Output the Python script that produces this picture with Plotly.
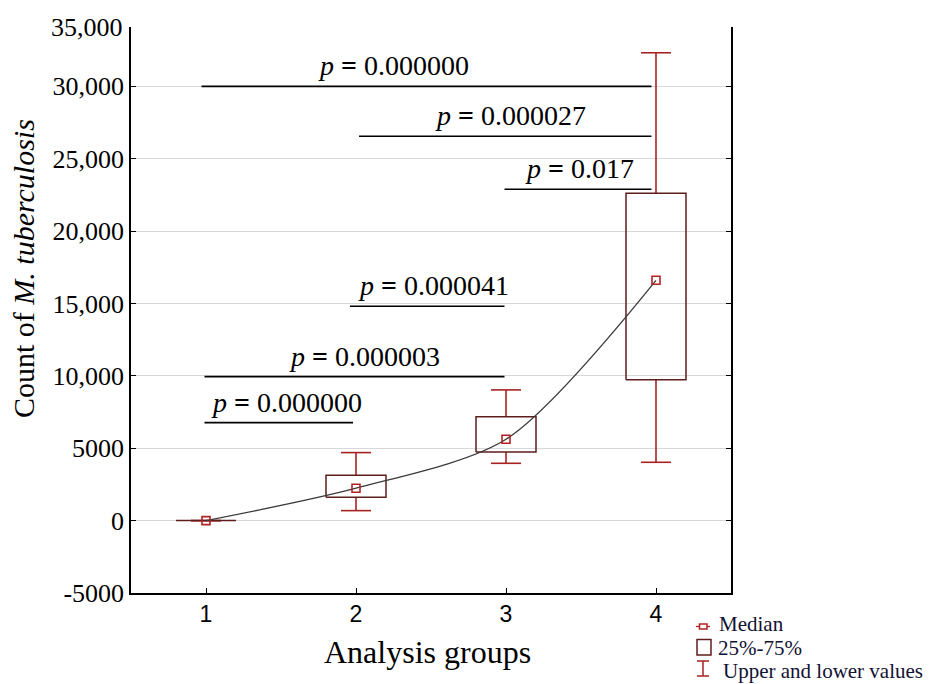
import plotly.graph_objects as go

# ---------------- data ----------------
groups = [1, 2, 3, 4]
medians = [0, 2240, 5620, 16600]
q1_vals = [0, 1620, 4740, 9740]
q3_vals = [0, 3140, 7180, 22610]
min_vals = [0, 690, 3960, 4030]
max_vals = [0, 4700, 9030, 32320]

y_tickvals = [-5000, 0, 5000, 10000, 15000, 20000, 25000, 30000]
y_ticktext = ["-5000", "0", "5000", "10,000", "15,000", "20,000", "25,000", "30,000"]
x_ticktext = ["1", "2", "3", "4"]

# pairwise comparisons (bracket from group a to group b at height)
cmp_start = [0.97, 2.02, 2.99, 1.96, 0.99, 0.99]
cmp_end = [3.97, 3.97, 3.97, 2.99, 2.99, 1.98]
cmp_height = [30000, 26550, 22890, 14810, 9950, 6770]
cmp_pvalue = ["0.000000", "0.000027", "0.017", "0.000041", "0.000003", "0.000000"]
cmp_text_x = [2.25, 3.03, 3.49, 2.515, 2.055, 1.535]

# ---------------- styles ----------------
BOX_COLOR = "#5e1d1d"
WHISK_COLOR = "#a82222"
MED_COLOR = "#b22222"
SERIF = "Liberation Serif, Times New Roman, serif"
SANS = "Liberation Sans, Arial, sans-serif"
box_half = 0.2
cap_half = 0.1

fig = go.Figure()

# whiskers
wx, wy = [], []
for g, lo, q1, q3, hi in zip(groups, min_vals, q1_vals, q3_vals, max_vals):
    wx += [g, g, None, g, g, None, g - cap_half, g + cap_half, None, g - cap_half, g + cap_half, None]
    wy += [q3, hi, None, q1, lo, None, hi, hi, None, lo, lo, None]
fig.add_trace(go.Scatter(x=wx, y=wy, mode="lines", line=dict(color=WHISK_COLOR, width=1.6),
                         hoverinfo="skip", showlegend=False))

# boxes
bx, by = [], []
for g, q1, q3 in zip(groups, q1_vals, q3_vals):
    bx += [g - box_half, g + box_half, g + box_half, g - box_half, g - box_half, None]
    by += [q1, q1, q3, q3, q1, None]
fig.add_trace(go.Scatter(x=bx, y=by, mode="lines", line=dict(color=BOX_COLOR, width=1.5),
                         hoverinfo="skip", showlegend=False))

# median curve
fig.add_trace(go.Scatter(x=groups, y=medians, mode="lines",
                         line=dict(color="#3a3a3a", width=1.3, shape="spline", smoothing=0.8),
                         hoverinfo="skip", showlegend=False))
# median markers
fig.add_trace(go.Scatter(x=groups, y=medians, mode="markers",
                         marker=dict(symbol="square-open", size=8, color=MED_COLOR,
                                     line=dict(width=1.6, color=MED_COLOR)),
                         showlegend=False))

# comparison brackets
cx, cy = [], []
for s, e, h in zip(cmp_start, cmp_end, cmp_height):
    cx += [s, e, None]
    cy += [h, h, None]
fig.add_trace(go.Scatter(x=cx, y=cy, mode="lines", line=dict(color="black", width=1.6),
                         hoverinfo="skip", showlegend=False))

annotations = []
for tx, h, p in zip(cmp_text_x, cmp_height, cmp_pvalue):
    annotations.append(dict(x=tx, y=h, xref="x", yref="y", xanchor="center", yanchor="bottom", yshift=3,
                            text="<i>p</i> <b>=</b> " + p, showarrow=False,
                            font=dict(family=SERIF, size=28, color="black")))


def px(x):
    return (x - 131) / 600


def py(y):
    return (593 - y) / 566


# top tick label
annotations.append(dict(x=0, y=1, xref="paper", yref="paper", xanchor="right", yanchor="middle",
                        xshift=-6, text="35,000", showarrow=False,
                        font=dict(family=SERIF, size=26, color="black")))

# axis titles
annotations.append(dict(x=px(23), y=py(269), xref="paper", yref="paper",
                        xanchor="center", yanchor="middle",
                        text="Count of <i>M. tuberculosis</i>", textangle=-90, showarrow=False,
                        font=dict(family=SERIF, size=30, color="black")))
annotations.append(dict(x=px(427), y=py(652), xref="paper", yref="paper",
                        xanchor="center", yanchor="middle",
                        text="Analysis groups", showarrow=False,
                        font=dict(family=SERIF, size=32, color="black")))

# legend (manual)
shapes = [
    dict(type="line", xref="paper", yref="paper", x0=px(696), x1=px(710), y0=py(626.5), y1=py(626.5),
         line=dict(color=MED_COLOR, width=1.3)),
    dict(type="rect", xref="paper", yref="paper", x0=px(699.5), x1=px(707), y0=py(629), y1=py(624),
         line=dict(color=MED_COLOR, width=1.5), fillcolor="white"),
    dict(type="rect", xref="paper", yref="paper", x0=px(697), x1=px(711), y0=py(655), y1=py(639.5),
         line=dict(color=BOX_COLOR, width=1.5)),
    dict(type="line", xref="paper", yref="paper", x0=px(703), x1=px(703), y0=py(661), y1=py(676),
         line=dict(color=WHISK_COLOR, width=1.5)),
    dict(type="line", xref="paper", yref="paper", x0=px(697), x1=px(709), y0=py(661), y1=py(661),
         line=dict(color=WHISK_COLOR, width=1.5)),
    dict(type="line", xref="paper", yref="paper", x0=px(697), x1=px(709), y0=py(676), y1=py(676),
         line=dict(color=WHISK_COLOR, width=1.5)),
]
for label, lx, ly in [("Median", 717, 624), ("25%-75%", 716, 647.5), ("Upper and lower values", 721, 671)]:
    annotations.append(dict(x=px(lx), y=py(ly), xref="paper", yref="paper", xanchor="left",
                            yanchor="middle", text=label, showarrow=False,
                            font=dict(family=SERIF, size=21, color="#111133")))

fig.update_layout(
    width=946, height=684,
    margin=dict(l=131, r=215, t=27, b=91),
    plot_bgcolor="white", paper_bgcolor="white",
    annotations=annotations, shapes=shapes,
    showlegend=False,
)
fig.update_xaxes(range=[0.5, 4.5], tickvals=groups, ticktext=x_ticktext,
                 ticks="inside", ticklen=5, tickcolor="black", showline=True, linecolor="black",
                 linewidth=1.5, showgrid=False, zeroline=False, mirror=False,
                 tickfont=dict(family=SANS, size=23, color="black"))
fig.update_yaxes(range=[-5000, 34100], tickvals=y_tickvals, ticktext=y_ticktext,
                 ticks="inside", ticklen=5, tickcolor="black", showline=True, linecolor="black",
                 linewidth=1.5, mirror="ticks", showgrid=True, gridcolor="#d8d8d8", gridwidth=1,
                 zeroline=False, tickfont=dict(family=SERIF, size=26, color="black"))

fig.write_html("out.html", config={"displayModeBar": False},
               post_script="document.body.style.margin='0';document.body.style.overflow='hidden';")
